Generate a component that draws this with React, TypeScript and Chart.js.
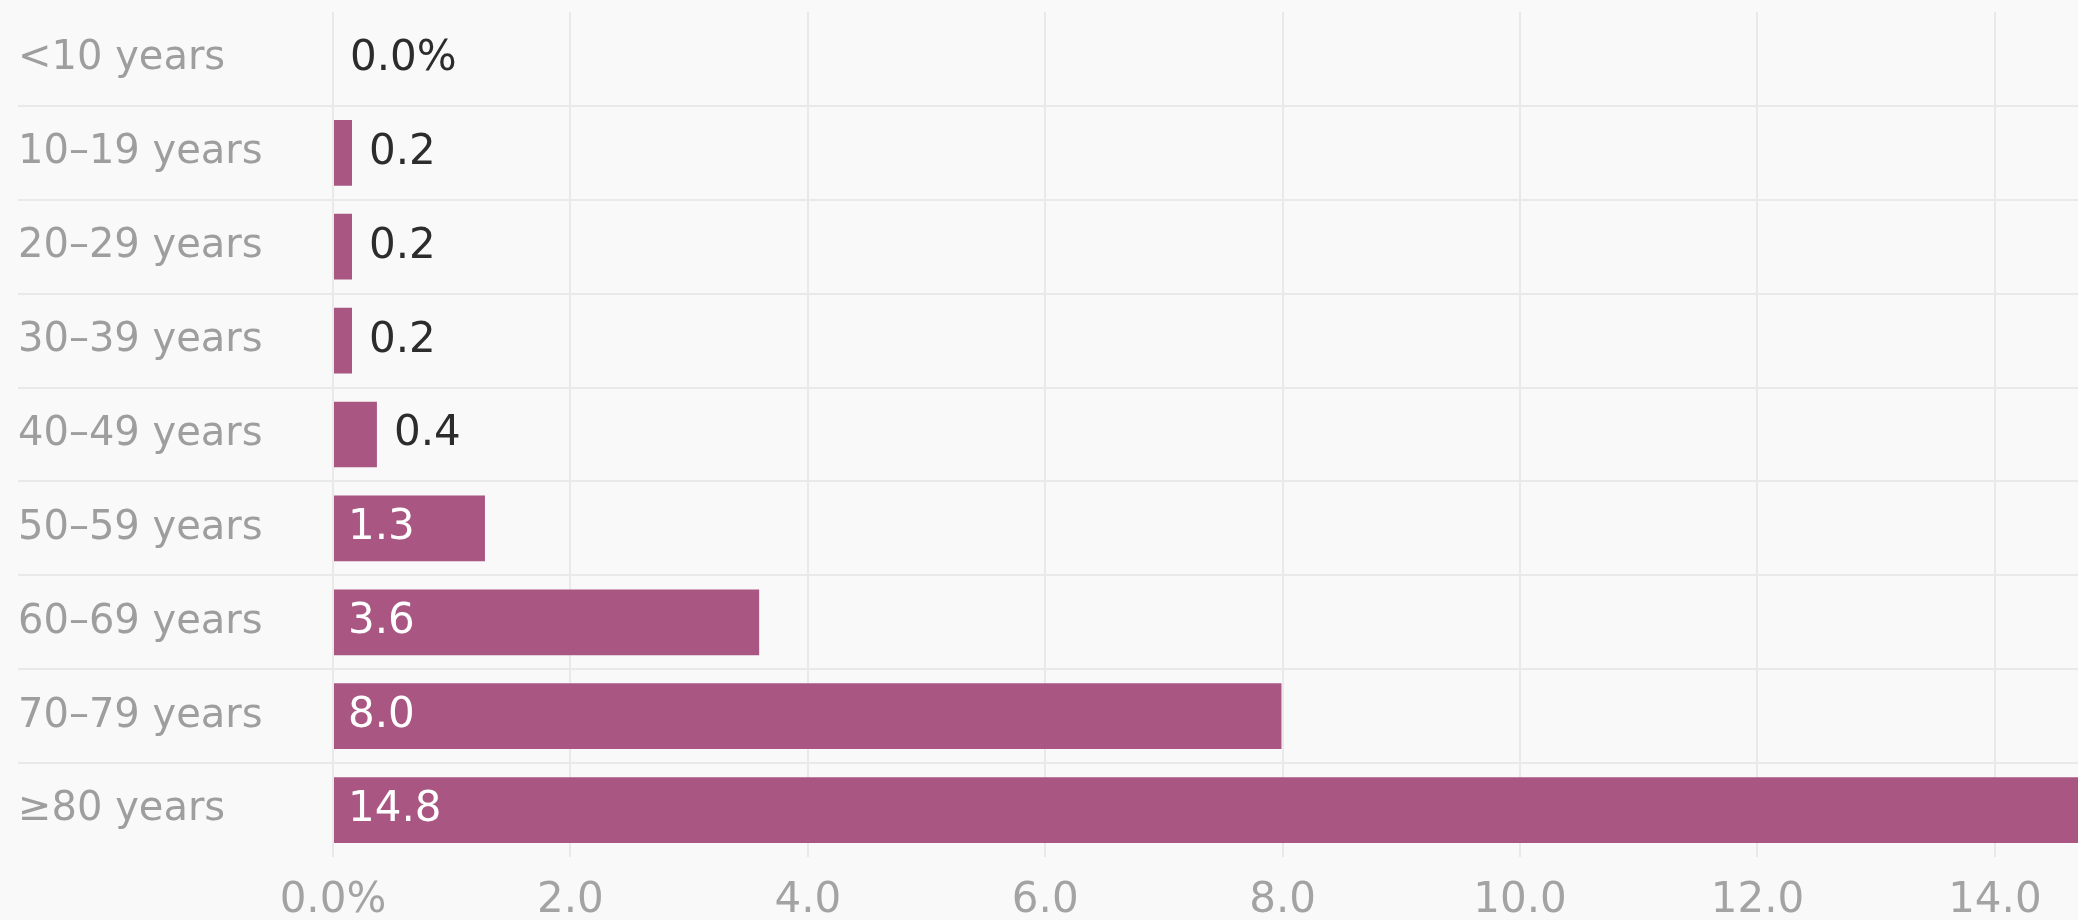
import React, { useEffect, useRef } from "react";
import { Chart, registerables } from "chart.js";

Chart.register(...registerables);

const categories = [
  "<10 years",
  "10–19 years",
  "20–29 years",
  "30–39 years",
  "40–49 years",
  "50–59 years",
  "60–69 years",
  "70–79 years",
  "≥80 years",
];
const values = [0.0, 0.16, 0.16, 0.16, 0.37, 1.28, 3.59, 7.99, 14.8];
const valueLabels = ["0.0%", "0.2", "0.2", "0.2", "0.4", "1.3", "3.6", "8.0", "14.8"];
const xTickLabels = ["0.0%", "2.0", "4.0", "6.0", "8.0", "10.0", "12.0", "14.0"];

const FONT = '"DejaVu Sans", sans-serif';
const BAR = "#a95683";
const GRID = "#e9e9e9";

export default function App() {
  const ref = useRef<HTMLCanvasElement | null>(null);

  useEffect(() => {
    if (!ref.current) return;
    const labelPlugin = {
      id: "valueLabels",
      afterDatasetsDraw(chart: any) {
        const ctx = chart.ctx;
        const meta = chart.getDatasetMeta(0);
        meta.data.forEach((bar: any, i: number) => {
          const v = values[i];
          ctx.save();
          ctx.font = `42px ${FONT}`;
          ctx.textBaseline = "middle";
          ctx.textAlign = "left";
          if (v < 1) {
            ctx.fillStyle = "#2c2c2c";
            ctx.fillText(valueLabels[i], bar.x + 17, bar.y);
          } else {
            ctx.fillStyle = "#ffffff";
            ctx.fillText(valueLabels[i], bar.base + 14, bar.y);
          }
          ctx.restore();
        });
      },
    };

    const chart = new Chart(ref.current, {
      type: "bar",
      data: {
        labels: categories,
        datasets: [
          {
            data: values,
            backgroundColor: BAR,
            borderWidth: 0,
            categoryPercentage: 1,
            barPercentage: 0.7,
          },
        ],
      },
      options: {
        indexAxis: "y",
        animation: false,
        responsive: true,
        maintainAspectRatio: false,
        layout: { padding: { left: 18, right: 0, top: 12, bottom: 0 } },
        plugins: { legend: { display: false }, tooltip: { enabled: false } },
        scales: {
          x: {
            min: 0,
            max: 14.7,
            border: { display: false },
            grid: { color: GRID, lineWidth: 2, drawTicks: false },
            ticks: {
              stepSize: 2,
              includeBounds: false,
              color: "#a3a3a3",
              font: { family: FONT, size: 42 },
              padding: 19,
              callback: (_v: any, i: number) => xTickLabels[i],
            },
            afterFit: (s: any) => {
              s.height = 63;
            },
          },
          y: {
            border: { display: false },
            grid: {
              offset: true,
              lineWidth: 2,
              tickLength: 315,
              color: (c: any) =>
                c.index === undefined || c.index === 0 ? "rgba(0,0,0,0)" : GRID,
            },
            ticks: {
              crossAlign: "far",
              color: "#9e9e9e",
              font: { family: FONT, size: 40 },
              padding: 0,
            },
            afterFit: (s: any) => {
              s.width = 315;
              s.paddingTop = 0;
              s.paddingBottom = 0;
            },
          },
        },
      },
      plugins: [labelPlugin],
    });
    return () => chart.destroy();
  }, []);

  return (
    <div
      style={{
        position: "fixed",
        left: 0,
        top: 0,
        width: 2078,
        height: 920,
        background: "#f9f9f9",
      }}
    >
      <canvas ref={ref} />
    </div>
  );
}
